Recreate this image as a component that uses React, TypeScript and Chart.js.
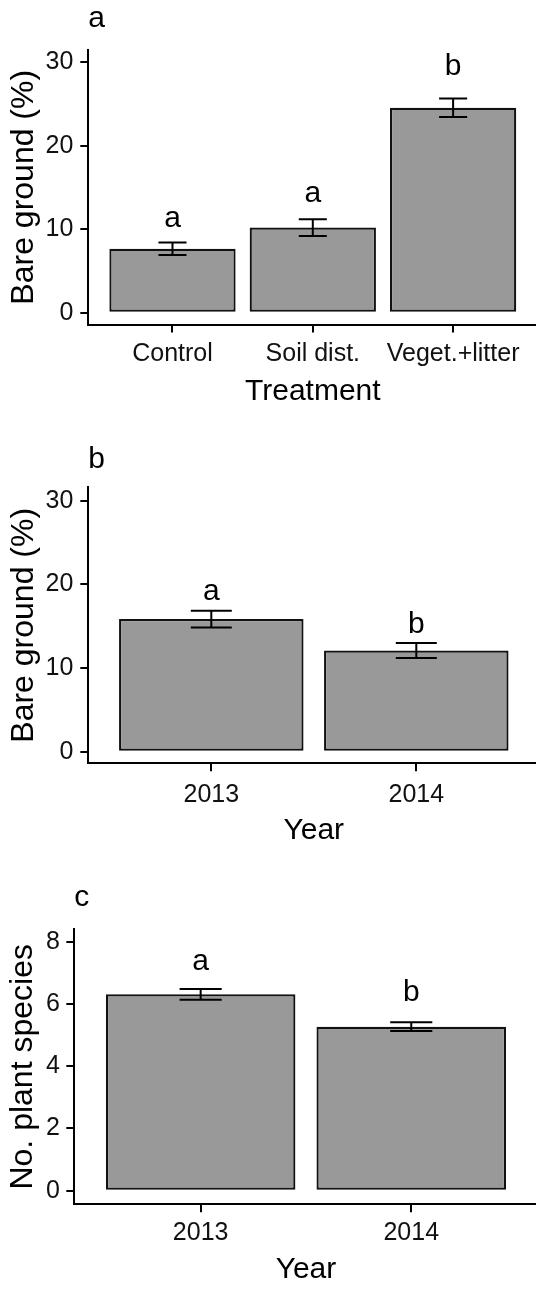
import React, { useEffect, useRef } from "react";
import { Chart, registerables } from "chart.js";

Chart.register(...registerables);

const FONT = "'Liberation Sans', Arial, Helvetica, sans-serif";

// ---- Panel a: bare ground by treatment ----
const treatmentLabels = ["Control", "Soil dist.", "Veget.+litter"];
const bareGroundByTreatment = [7.65, 10.2, 24.55];
const bareGroundByTreatmentSE = [0.75, 1.0, 1.1];
const treatmentLetters = ["a", "a", "b"];
const treatmentLetterY = [10.3, 13.3, 28.5];

// ---- Panel b: bare ground by year ----
const yearLabels = ["2013", "2014"];
const bareGroundByYear = [15.85, 12.1];
const bareGroundByYearSE = [1.0, 0.9];
const bareYearLetters = ["a", "b"];
const bareYearLetterY = [18.1, 14.2];

// ---- Panel c: number of plant species by year ----
const speciesByYear = [6.31, 5.27];
const speciesByYearSE = [0.17, 0.14];
const speciesLetters = ["a", "b"];
const speciesLetterY = [7.1, 6.1];

const bareGroundTicks = [0, 10, 20, 30];
const speciesTicks = [0, 2, 4, 6, 8];

type PanelData = {
  panelLetter: string;
  categories: string[];
  values: number[];
  se: number[];
  letters: string[];
  letterY: number[];
  yTicks: number[];
  yTitle: string;
  xTitle: string;
};

type PanelLayout = {
  top: number;
  height: number;
  yMin: number;
  yMax: number;
  chartLeft: number;
  chartRight: number;
  titlePadTop: number;
  titlePadBottom: number;
  xAxisH: number;
  xTickPad: number;
  xTitlePadBottom: number;
  yTickPad: number;
  yTitlePadTop: number;
};

const CANVAS_W = 542;
const LINE_W = 2;

const panels: { data: PanelData; layout: PanelLayout }[] = [
  {
    data: {
      panelLetter: "a",
      categories: treatmentLabels,
      values: bareGroundByTreatment,
      se: bareGroundByTreatmentSE,
      letters: treatmentLetters,
      letterY: treatmentLetterY,
      yTicks: bareGroundTicks,
      yTitle: "Bare ground (%)",
      xTitle: "Treatment",
    },
    layout: {
      top: 0,
      height: 420,
      yMin: -1.41,
      yMax: 31.47,
      chartLeft: 88.3,
      chartRight: 537.3,
      titlePadTop: 1.1,
      titlePadBottom: 12.9,
      xAxisH: 95.5,
      xTickPad: 6.8,
      xTitlePadBottom: 10,
      yTickPad: 7,
      yTitlePadTop: 4.8,
    },
  },
  {
    data: {
      panelLetter: "b",
      categories: yearLabels,
      values: bareGroundByYear,
      se: bareGroundByYearSE,
      letters: bareYearLetters,
      letterY: bareYearLetterY,
      yTicks: bareGroundTicks,
      yTitle: "Bare ground (%)",
      xTitle: "Year",
    },
    layout: {
      top: 430,
      height: 430,
      yMin: -1.39,
      yMax: 31.6,
      chartLeft: 88.3,
      chartRight: 539.3,
      titlePadTop: 11.6,
      titlePadBottom: 9.7,
      xAxisH: 96.7,
      xTickPad: 9,
      xTitlePadBottom: 11.2,
      yTickPad: 7,
      yTitlePadTop: 4.8,
    },
  },
  {
    data: {
      panelLetter: "c",
      categories: yearLabels,
      values: speciesByYear,
      se: speciesByYearSE,
      letters: speciesLetters,
      letterY: speciesLetterY,
      yTicks: speciesTicks,
      yTitle: "No. plant species",
      xTitle: "Year",
    },
    layout: {
      top: 860,
      height: 431,
      yMin: -0.437,
      yMax: 8.4,
      chartLeft: 74.3,
      chartRight: 537.6,
      titlePadTop: 20,
      titlePadBottom: 13.3,
      xAxisH: 86.7,
      xTickPad: 6,
      xTitlePadBottom: 3.5,
      yTickPad: 6.3,
      yTitlePadTop: 3.8,
    },
  },
];

function makeErrorBarPlugin(d: PanelData) {
  return {
    id: "errorBarsAndLetters",
    afterDatasetsDraw(chart: any) {
      const { ctx } = chart;
      const x = chart.scales.x;
      const y = chart.scales.y;
      const step = x.getPixelForValue(1) - x.getPixelForValue(0);
      const hw = (step * 0.2) / 2;
      ctx.save();
      ctx.strokeStyle = "#000";
      ctx.lineWidth = LINE_W;
      d.values.forEach((v, i) => {
        const cx = x.getPixelForValue(i);
        const yt = y.getPixelForValue(v + d.se[i]);
        const yb = y.getPixelForValue(v - d.se[i]);
        ctx.beginPath();
        ctx.moveTo(cx, yt);
        ctx.lineTo(cx, yb);
        ctx.moveTo(cx - hw, yt);
        ctx.lineTo(cx + hw, yt);
        ctx.moveTo(cx - hw, yb);
        ctx.lineTo(cx + hw, yb);
        ctx.stroke();
      });
      ctx.fillStyle = "#000";
      ctx.font = `30px ${FONT}`;
      ctx.textAlign = "center";
      ctx.textBaseline = "alphabetic";
      d.letters.forEach((l, i) => {
        ctx.fillText(l, x.getPixelForValue(i), y.getPixelForValue(d.letterY[i]));
      });
      ctx.restore();
    },
  };
}

function Panel({ data, layout }: { data: PanelData; layout: PanelLayout }) {
  const ref = useRef<HTMLCanvasElement | null>(null);
  useEffect(() => {
    const canvas = ref.current;
    if (!canvas) return;
    const n = data.categories.length;
    const chart = new Chart(canvas, {
      type: "bar",
      data: {
        datasets: [
          {
            data: data.values.map((v, i) => ({ x: i, y: v })),
            backgroundColor: "#999999",
            borderColor: "#111111",
            borderWidth: 2.2,
            borderSkipped: false,
            barPercentage: 0.9,
            categoryPercentage: 1,
          } as any,
        ],
      },
      options: {
        responsive: false,
        maintainAspectRatio: false,
        animation: false,
        devicePixelRatio: 1,
        layout: {
          padding: { left: 0, top: 0, bottom: 0, right: CANVAS_W - layout.chartRight },
        },
        plugins: {
          legend: { display: false },
          tooltip: { enabled: false },
          title: {
            display: true,
            text: data.panelLetter,
            align: "start",
            fullSize: false,
            color: "#000",
            font: { family: FONT, size: 30, weight: "normal" },
            padding: { top: layout.titlePadTop, bottom: layout.titlePadBottom },
          },
        },
        scales: {
          x: {
            type: "linear",
            min: -0.6,
            max: n - 1 + 0.6,
            offset: false,
            afterBuildTicks: (s: any) => {
              s.ticks = data.categories.map((_, i) => ({ value: i }));
            },
            afterFit: (s: any) => {
              s.height = layout.xAxisH;
            },
            ticks: {
              autoSkip: false,
              maxRotation: 0,
              minRotation: 0,
              padding: layout.xTickPad,
              color: "#111",
              font: { family: FONT, size: 25 },
              callback: (v: any) => data.categories[Math.round(Number(v))] ?? "",
            },
            grid: {
              offset: false,
              drawOnChartArea: false,
              drawTicks: true,
              tickLength: 8,
              color: "#000",
              lineWidth: LINE_W,
            },
            border: { display: true, color: "#000", width: LINE_W },
            title: {
              display: true,
              text: data.xTitle,
              color: "#000",
              font: { family: FONT, size: 30 },
              padding: { top: 0, bottom: layout.xTitlePadBottom },
            },
          } as any,
          y: {
            type: "linear",
            min: layout.yMin,
            max: layout.yMax,
            beginAtZero: false,
            afterBuildTicks: (s: any) => {
              s.ticks = data.yTicks.map((v) => ({ value: v }));
            },
            afterFit: (s: any) => {
              s.width = layout.chartLeft;
            },
            ticks: {
              padding: layout.yTickPad,
              color: "#111",
              font: { family: FONT, size: 25 },
              callback: (v: any) => String(v),
            },
            grid: {
              drawOnChartArea: false,
              drawTicks: true,
              tickLength: 8,
              color: "#000",
              lineWidth: LINE_W,
            },
            border: { display: true, color: "#000", width: LINE_W },
            title: {
              display: true,
              text: data.yTitle,
              color: "#000",
              font: { family: FONT, size: 32 },
              padding: { top: layout.yTitlePadTop, bottom: 0 },
            },
          } as any,
        },
      },
      plugins: [makeErrorBarPlugin(data)],
    });
    return () => chart.destroy();
  }, [data, layout]);

  return (
    <canvas
      ref={ref}
      width={CANVAS_W}
      height={layout.height}
      style={{
        position: "absolute",
        left: 0,
        top: layout.top,
        width: CANVAS_W,
        height: layout.height,
      }}
    />
  );
}

export default function App() {
  return (
    <div
      style={{
        position: "absolute",
        left: 0,
        top: 0,
        width: 536,
        height: 1291,
        overflow: "hidden",
        background: "#ffffff",
      }}
    >
      {panels.map((p) => (
        <Panel key={p.data.panelLetter} data={p.data} layout={p.layout} />
      ))}
    </div>
  );
}
